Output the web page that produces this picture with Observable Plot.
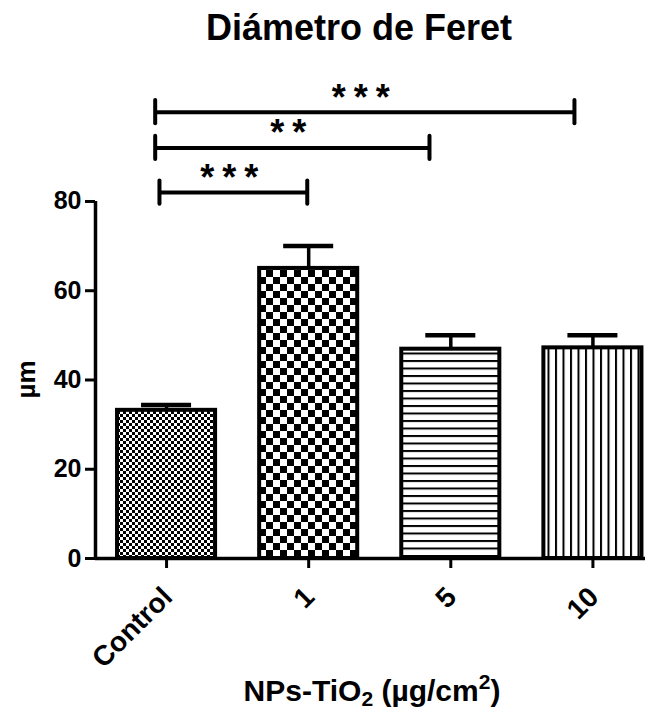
<!DOCTYPE html>
<html><head><meta charset="utf-8">
<script src="https://cdn.jsdelivr.net/npm/d3@7"></script>
<script src="https://cdn.jsdelivr.net/npm/@observablehq/plot@0.6"></script>
<style>
body{margin:0;background:#fff;font-family:"Liberation Sans",Arial,sans-serif;}
#title{width:655px;height:60px;box-sizing:border-box;padding-top:10px;padding-left:63px;font-size:36px;line-height:35px;font-weight:bold;text-align:center;color:#000;}
#chart svg{display:block;}
</style></head><body>
<svg width="0" height="0" style="position:absolute">
<defs>
<pattern id="pat0" patternUnits="userSpaceOnUse" width="6" height="6"><rect width="6" height="6" fill="#fff"/><rect width="3" height="3" fill="#000"/><rect x="3" y="3" width="3" height="3" fill="#000"/></pattern>
<pattern id="pat1" patternUnits="userSpaceOnUse" width="14" height="14"><rect width="14" height="14" fill="#fff"/><rect width="7" height="7" fill="#000"/><rect x="7" y="7" width="7" height="7" fill="#000"/></pattern>
<pattern id="pat2" patternUnits="userSpaceOnUse" width="7.5" height="7.5"><rect width="7.5" height="7.5" fill="#fff"/><rect y="0" width="7.5" height="2" fill="#000"/></pattern>
<pattern id="pat3" patternUnits="userSpaceOnUse" width="7.5" height="7.5"><rect width="7.5" height="7.5" fill="#fff"/><rect x="0" width="2" height="7.5" fill="#000"/></pattern>
</defs></svg>
<div id="title">Diámetro de Feret</div>
<div id="chart"></div>
<script>
const categories = ["Control", "1", "5", "10"];
const means = [33.2, 65.0, 46.9, 47.2];
const sems = [1.2, 5.0, 3.1, 2.8];
const patterns = ["url(#pat0)", "url(#pat1)", "url(#pat2)", "url(#pat3)"];
const yTicks = [0, 20, 40, 60, 80];
const bracketStart = [-0.05, -0.08, -0.08];
const bracketEnd = [0.99, 1.85, 2.87];
const bracketY = [82, 92, 100];
const bracketLabel = ["***", "**", "***"];

const data = categories.map((c, i) => ({i, c, mean: means[i], top: means[i] + sems[i], pat: patterns[i]}));
const brackets = bracketStart.map((s, k) => ({x1: s, x2: bracketEnd[k], xm: (s + bracketEnd[k]) / 2, y: bracketY[k], label: bracketLabel[k]}));
const halfBar = 0.345, halfCap = 0.176, tickH = 2.6;
const font = "Liberation Sans, Arial, sans-serif";
const xTicks = categories.map((c, i) => i);

const plot = Plot.plot({
  width: 655, height: 653,
  marginLeft: 95, marginRight: 10, marginTop: 29.4, marginBottom: 155,
  x: {type: "linear", domain: [-0.5, 3.37]},
  y: {domain: [0, 105]},
  color: {type: "identity"},
  style: {fontFamily: font, background: "white", color: "black"},
  marks: [
    Plot.ruleX(data, {x: "i", y1: "mean", y2: "top", strokeWidth: 3.5}),
    Plot.ruleY(data, {y: "top", x1: d => d.i - halfCap, x2: d => d.i + halfCap, strokeWidth: 4.5}),
    Plot.rectY(data, {x1: d => d.i - halfBar, x2: d => d.i + halfBar, y1: 0, y2: "mean", fill: "pat", stroke: "black", strokeWidth: 4}),
    Plot.ruleY([0], {x1: -0.5, x2: 3.37, strokeWidth: 3.5}),
    Plot.ruleX([-0.5], {y1: 0, y2: 80, strokeWidth: 3.5}),
    Plot.axisY({ticks: yTicks, tickSize: 10, strokeWidth: 3, fontSize: 25, fontWeight: "bold", tickPadding: 4, label: null}),
    Plot.axisX({ticks: xTicks, tickSize: 10, strokeWidth: 3, tickFormat: () => "", label: null}),
    Plot.axisX({ticks: xTicks, tickSize: 0, tickFormat: i => categories[i], fontSize: 28, fontWeight: "bold", tickRotate: -45, tickPadding: 14, dx: 1, dy: 20, label: null}),
    Plot.ruleY(brackets, {y: "y", x1: "x1", x2: "x2", strokeWidth: 4}),
    Plot.ruleX(brackets, {x: "x1", y1: d => d.y - tickH, y2: d => d.y + tickH, strokeWidth: 4, strokeLinecap: "round"}),
    Plot.ruleX(brackets, {x: "x2", y1: d => d.y - tickH, y2: d => d.y + tickH, strokeWidth: 4, strokeLinecap: "round"}),
    Plot.text(brackets, {x: "xm", y: "y", text: "label", fontSize: 36, fontWeight: "bold", lineAnchor: "middle", dy: -14, className: "stars"})
  ]
});
document.getElementById("chart").appendChild(plot);
const svg = d3.select(plot);
svg.selectAll(".stars text").attr("letter-spacing", 8);
const ys = plot.scale("y"), xs = plot.scale("x");
svg.append("text")
  .attr("transform", `translate(26,${ys.apply(40)}) rotate(-90)`)
  .attr("text-anchor", "middle").attr("dominant-baseline", "central")
  .attr("font-size", 26).attr("font-weight", "bold").attr("font-family", font)
  .text("µm");
const xl = svg.append("text")
  .attr("x", (xs.range[0] + xs.range[1]) / 2 + 2).attr("y", 641)
  .attr("text-anchor", "middle").attr("font-size", 30).attr("font-weight", "bold").attr("font-family", font);
xl.append("tspan").text("NPs-TiO");
xl.append("tspan").attr("dy", 5).attr("font-size", 21).text("2");
xl.append("tspan").attr("dy", -5).text(" (µg/cm");
xl.append("tspan").attr("dy", -12).attr("font-size", 21).text("2");
xl.append("tspan").attr("dy", 12).text(")");
</script>
</body></html>
